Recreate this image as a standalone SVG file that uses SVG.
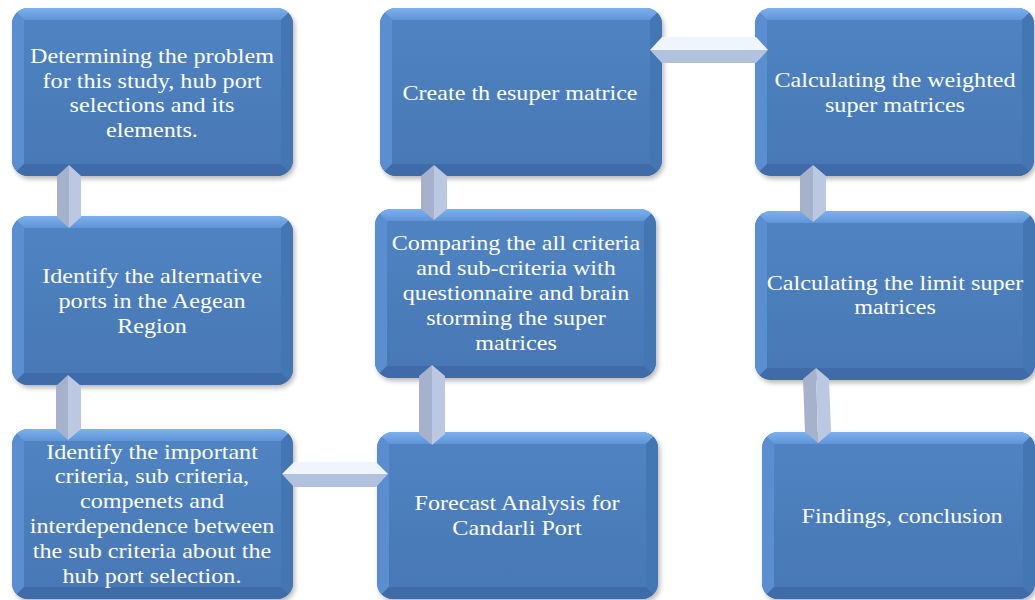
<svg xmlns="http://www.w3.org/2000/svg" width="1035" height="600" viewBox="0 0 1035 600">
<style>
.face{fill:url(#faceGrad)}
.top{fill:url(#topGrad)}
.left{fill:#5a8ed0}
.right{fill:#4576b4}
.bot{fill:#3f6ca8}
.shadow{fill:#000;opacity:0.28;filter:url(#blur)}
.t{font-family:"Liberation Serif","Times New Roman",serif;font-size:21px;fill:#ffffff;text-anchor:middle}
.cl{fill:#a6b2cc}
.cr{fill:#bcc8e2}
.ct{fill:#eef5fc}
.cb{fill:#b2c2de}
</style>
<defs>
<filter id="blur" x="-10%" y="-10%" width="120%" height="130%"><feGaussianBlur stdDeviation="2.5"/></filter>
<linearGradient id="faceGrad" x1="0" y1="0" x2="0" y2="1">
<stop offset="0" stop-color="#4f84c3"/>
<stop offset="1" stop-color="#4877b4"/>
</linearGradient>
<linearGradient id="topGrad" x1="0" y1="0" x2="0" y2="1">
<stop offset="0" stop-color="#7cb0ee"/>
<stop offset="1" stop-color="#5f95d8"/>
</linearGradient>
<clipPath id="k1"><rect x="12" y="8" width="281" height="168" rx="16"/></clipPath>
<clipPath id="k2"><rect x="12" y="216" width="281" height="169" rx="16"/></clipPath>
<clipPath id="k3"><rect x="12" y="429" width="281" height="170" rx="16"/></clipPath>
<clipPath id="k4"><rect x="380" y="8" width="282" height="168" rx="16"/></clipPath>
<clipPath id="k5"><rect x="375" y="209" width="281" height="169" rx="16"/></clipPath>
<clipPath id="k6"><rect x="377" y="432" width="281" height="167" rx="16"/></clipPath>
<clipPath id="k7"><rect x="755" y="8" width="279" height="168" rx="16"/></clipPath>
<clipPath id="k8"><rect x="755" y="211" width="280" height="169" rx="16"/></clipPath>
<clipPath id="k9"><rect x="762" y="432" width="273" height="167" rx="16"/></clipPath>
</defs>
<rect width="1035" height="600" fill="#ffffff"/>

<g id="n1">
<rect class="shadow" x="14" y="11" width="281" height="168" rx="16"/>
<g clip-path="url(#k1)">
<rect class="face" x="12" y="8" width="281" height="168"/>
<polygon class="top" points="12,8 293,8 281,20 24,20"/>
<polygon class="left" points="12,8 24,20 24,164 12,176"/>
<polygon class="right" points="293,8 281,20 281,164 293,176"/>
<polygon class="bot" points="12,176 24,164 281,164 293,176"/>
</g>
<g transform="translate(152,0) scale(1.15,1)">
<text class="t" x="0" y="63">Determining the problem</text>
<text class="t" x="0" y="88">for this study, hub port</text>
<text class="t" x="0" y="112">selections and its</text>
<text class="t" x="0" y="137">elements.</text>
</g>
</g>

<g id="n2">
<rect class="shadow" x="14" y="219" width="281" height="169" rx="16"/>
<g clip-path="url(#k2)">
<rect class="face" x="12" y="216" width="281" height="169"/>
<polygon class="top" points="12,216 293,216 281,228 24,228"/>
<polygon class="left" points="12,216 24,228 24,373 12,385"/>
<polygon class="right" points="293,216 281,228 281,373 293,385"/>
<polygon class="bot" points="12,385 24,373 281,373 293,385"/>
</g>
<g transform="translate(152,0) scale(1.15,1)">
<text class="t" x="0" y="283">Identify the alternative</text>
<text class="t" x="0" y="308">ports in the Aegean</text>
<text class="t" x="0" y="333">Region</text>
</g>
</g>

<g id="n3">
<rect class="shadow" x="14" y="432" width="281" height="170" rx="16"/>
<g clip-path="url(#k3)">
<rect class="face" x="12" y="429" width="281" height="170"/>
<polygon class="top" points="12,429 293,429 281,441 24,441"/>
<polygon class="left" points="12,429 24,441 24,587 12,599"/>
<polygon class="right" points="293,429 281,441 281,587 293,599"/>
<polygon class="bot" points="12,599 24,587 281,587 293,599"/>
</g>
<g transform="translate(152,0) scale(1.15,1)">
<text class="t" x="0" y="459">Identify the important</text>
<text class="t" x="0" y="483">criteria, sub criteria,</text>
<text class="t" x="0" y="508">compenets and</text>
<text class="t" x="0" y="533">interdependence between</text>
<text class="t" x="0" y="558">the sub criteria about the</text>
<text class="t" x="0" y="583">hub port selection.</text>
</g>
</g>

<g id="n4">
<rect class="shadow" x="382" y="11" width="282" height="168" rx="16"/>
<g clip-path="url(#k4)">
<rect class="face" x="380" y="8" width="282" height="168"/>
<polygon class="top" points="380,8 662,8 650,20 392,20"/>
<polygon class="left" points="380,8 392,20 392,164 380,176"/>
<polygon class="right" points="662,8 650,20 650,164 662,176"/>
<polygon class="bot" points="380,176 392,164 650,164 662,176"/>
</g>
<g transform="translate(520,0) scale(1.15,1)">
<text class="t" x="0" y="100">Create th esuper matrice</text>
</g>
</g>

<g id="n5">
<rect class="shadow" x="377" y="212" width="281" height="169" rx="16"/>
<g clip-path="url(#k5)">
<rect class="face" x="375" y="209" width="281" height="169"/>
<polygon class="top" points="375,209 656,209 644,221 387,221"/>
<polygon class="left" points="375,209 387,221 387,366 375,378"/>
<polygon class="right" points="656,209 644,221 644,366 656,378"/>
<polygon class="bot" points="375,378 387,366 644,366 656,378"/>
</g>
<g transform="translate(516,0) scale(1.15,1)">
<text class="t" x="0" y="250">Comparing the all criteria</text>
<text class="t" x="0" y="275">and sub-criteria with</text>
<text class="t" x="0" y="300">questionnaire and brain</text>
<text class="t" x="0" y="325">storming the super</text>
<text class="t" x="0" y="350">matrices</text>
</g>
</g>

<g id="n6">
<rect class="shadow" x="379" y="435" width="281" height="167" rx="16"/>
<g clip-path="url(#k6)">
<rect class="face" x="377" y="432" width="281" height="167"/>
<polygon class="top" points="377,432 658,432 646,444 389,444"/>
<polygon class="left" points="377,432 389,444 389,587 377,599"/>
<polygon class="right" points="658,432 646,444 646,587 658,599"/>
<polygon class="bot" points="377,599 389,587 646,587 658,599"/>
</g>
<g transform="translate(517,0) scale(1.15,1)">
<text class="t" x="0" y="510">Forecast Analysis for</text>
<text class="t" x="0" y="535">Candarli Port</text>
</g>
</g>

<g id="n7">
<rect class="shadow" x="757" y="11" width="279" height="168" rx="16"/>
<g clip-path="url(#k7)">
<rect class="face" x="755" y="8" width="279" height="168"/>
<polygon class="top" points="755,8 1034,8 1022,20 767,20"/>
<polygon class="left" points="755,8 767,20 767,164 755,176"/>
<polygon class="right" points="1034,8 1022,20 1022,164 1034,176"/>
<polygon class="bot" points="755,176 767,164 1022,164 1034,176"/>
</g>
<g transform="translate(895,0) scale(1.15,1)">
<text class="t" x="0" y="87">Calculating the weighted</text>
<text class="t" x="0" y="112">super matrices</text>
</g>
</g>

<g id="n8">
<rect class="shadow" x="757" y="214" width="280" height="169" rx="16"/>
<g clip-path="url(#k8)">
<rect class="face" x="755" y="211" width="280" height="169"/>
<polygon class="top" points="755,211 1035,211 1023,223 767,223"/>
<polygon class="left" points="755,211 767,223 767,368 755,380"/>
<polygon class="right" points="1035,211 1023,223 1023,368 1035,380"/>
<polygon class="bot" points="755,380 767,368 1023,368 1035,380"/>
</g>
<g transform="translate(895,0) scale(1.15,1)">
<text class="t" x="0" y="290">Calculating the limit super</text>
<text class="t" x="0" y="314">matrices</text>
</g>
</g>

<g id="n9">
<rect class="shadow" x="764" y="435" width="273" height="167" rx="16"/>
<g clip-path="url(#k9)">
<rect class="face" x="762" y="432" width="273" height="167"/>
<polygon class="top" points="762,432 1035,432 1023,444 774,444"/>
<polygon class="left" points="762,432 774,444 774,587 762,599"/>
<polygon class="right" points="1035,432 1023,444 1023,587 1035,599"/>
<polygon class="bot" points="762,599 774,587 1023,587 1035,599"/>
</g>
<g transform="translate(902,0) scale(1.15,1)">
<text class="t" x="0" y="523">Findings, conclusion</text>
</g>
</g>

<g id="connectors">
<polygon class="cl" points="69,165 57,176 57,217 69,228"/>
<polygon class="cr" points="69,165 81,176 81,217 69,228"/>

<polygon class="cl" points="68,375 56,386 56,429 68,440"/>
<polygon class="cr" points="68,375 81,386 81,429 68,440"/>

<polygon class="cl" points="434,165 421,176 421,209 434,220"/>
<polygon class="cr" points="434,165 447,176 447,209 434,220"/>

<polygon class="cl" points="432,365 419,376 419,434 432,445"/>
<polygon class="cr" points="432,365 445,376 445,434 432,445"/>

<polygon class="cl" points="813,165 800,176 800,211 813,222"/>
<polygon class="cr" points="813,165 826,176 826,211 813,222"/>

<polygon class="cl" points="816,368 803,379 805,432 818,443"/>
<polygon class="cr" points="816,368 829,379 831,432 818,443"/>

<polygon class="ct" points="650,50 662,37 756,37 768,50"/>
<polygon class="cb" points="650,50 662,63 756,63 768,50"/>

<polygon class="ct" points="282,474 294,462 376,462 388,474"/>
<polygon class="cb" points="282,474 294,487 376,487 388,474"/>
</g>
</svg>
